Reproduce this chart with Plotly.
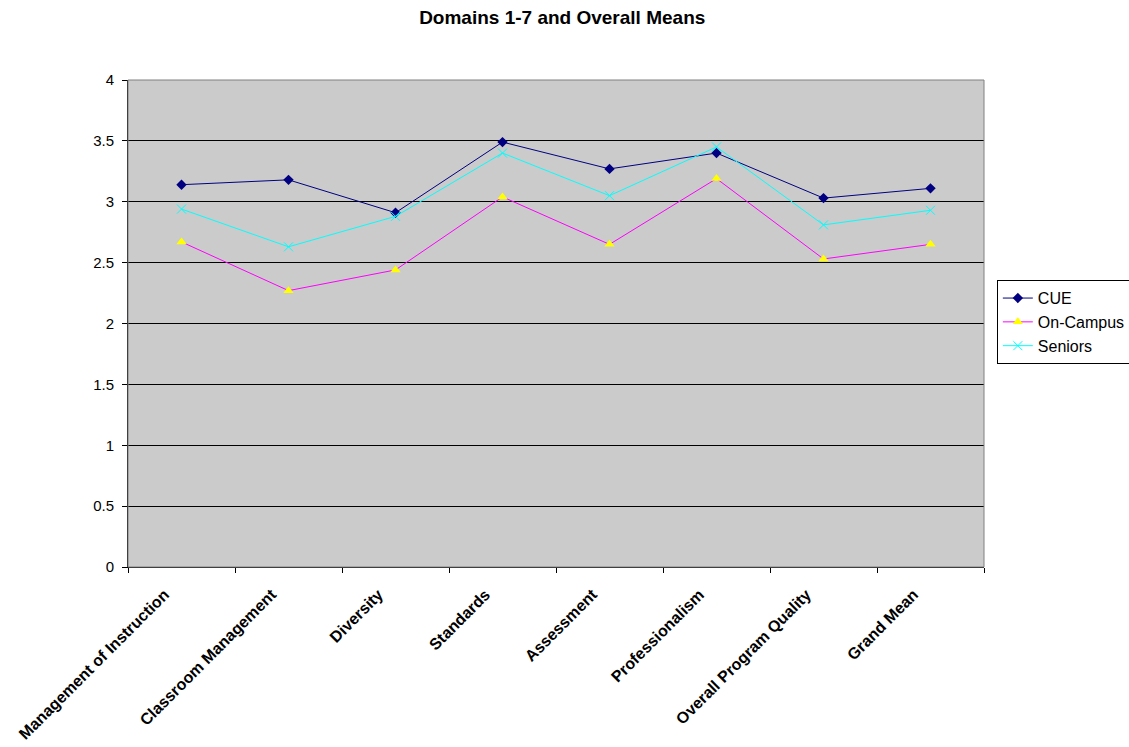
import plotly.graph_objects as go

categories = ["Management of Instruction", "Classroom Management", "Diversity", "Standards",
              "Assessment", "Professionalism", "Overall Program Quality", "Grand Mean"]
cue = [3.14, 3.18, 2.91, 3.49, 3.27, 3.40, 3.03, 3.11]
on_campus = [2.67, 2.27, 2.44, 3.04, 2.65, 3.19, 2.53, 2.65]
seniors = [2.94, 2.63, 2.88, 3.40, 3.05, 3.45, 2.81, 2.93]
y_ticks = [0, 0.5, 1, 1.5, 2, 2.5, 3, 3.5, 4]

FONT = "Liberation Sans, Arial, sans-serif"

fig = go.Figure()
fig.add_trace(go.Scatter(x=categories, y=cue, name="CUE", mode="lines+markers",
                         line=dict(color="#000080", width=1),
                         marker=dict(symbol="diamond", size=8, color="#000080")))
fig.add_trace(go.Scatter(x=categories, y=on_campus, name="On-Campus", mode="lines+markers",
                         line=dict(color="#FF00FF", width=1),
                         marker=dict(symbol="triangle-up", size=9, color="#FFFF00")))
fig.add_trace(go.Scatter(x=categories, y=seniors, name="Seniors", mode="lines+markers",
                         line=dict(color="#00FFFF", width=1),
                         marker=dict(symbol="x-thin-open", size=9, color="#00FFFF",
                                     line=dict(color="#00FFFF", width=1))))

fig.update_layout(
    width=1129, height=747,
    margin=dict(l=128, r=145, t=80, b=180, autoexpand=False),
    paper_bgcolor="white", plot_bgcolor="#CBCBCB",
    font=dict(family=FONT, size=12, color="black"),
    title=dict(text="<b>Domains 1-7 and Overall Means</b>", x=0.498, xanchor="center",
               y=0.977, yanchor="middle", font=dict(size=19, family=FONT)),
    showlegend=True,
    legend=dict(x=1.015, xanchor="left", y=0.589, yanchor="top",
                bgcolor="white", bordercolor="black", borderwidth=1,
                font=dict(size=16, family=FONT), tracegroupgap=0,
                itemwidth=30),
    shapes=[dict(type="rect", xref="paper", yref="paper", x0=0, y0=0, x1=1, y1=1,
                 line=dict(color="#808080", width=1), layer="above")],
)
fig.update_xaxes(type="category", range=[-0.5, 7.5], tickson="boundaries",
                 ticks="outside", ticklen=5, tickcolor="black",
                 showline=True, linecolor="black", linewidth=1, showgrid=False,
                 tickangle=-45, ticklabelstandoff=11, ticklabelshift=-17,
                 tickfont=dict(size=16, family=FONT, weight="bold"))
fig.update_yaxes(range=[0, 4], tickvals=y_ticks, ticktext=[f"{v:g}" for v in y_ticks],
                 ticks="outside", ticklen=5, tickcolor="black",
                 showline=True, linecolor="black", linewidth=1,
                 showgrid=True, gridcolor="black", gridwidth=1, zeroline=False,
                 ticklabelstandoff=5,
                 tickfont=dict(size=15, family=FONT))

fig.write_html("out.html")
